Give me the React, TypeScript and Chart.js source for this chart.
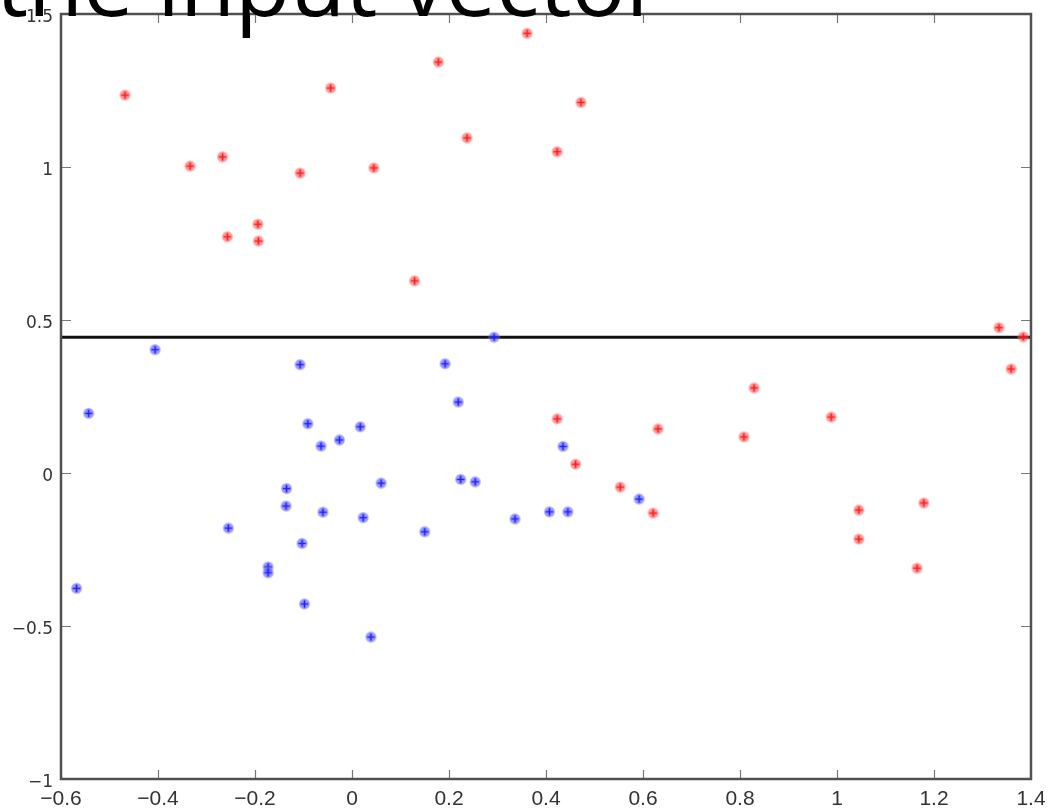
import React, { useEffect, useRef } from "react";
import { Chart, registerables } from "chart.js";

Chart.register(...registerables);

// ---------- data ----------
const titleText = "the input vector";

const xTickValues = [-0.6, -0.4, -0.2, 0, 0.2, 0.4, 0.6, 0.8, 1, 1.2, 1.4];
const yTickValues = [-1, -0.5, 0, 0.5, 1, 1.5];

const boundaryX = [-0.6, 1.4];
const boundaryY = [0.444, 0.444];

const redX = [
  -0.468, -0.044, 0.178, 0.361, 0.472, 0.237, 0.423, -0.334, -0.267, -0.107,
  0.045, -0.257, -0.194, -0.193, 0.129, 0.423, 0.461, 0.553, 0.621, 0.631,
  0.829, 0.808, 0.988, 1.045, 1.045, 1.179, 1.165, 1.334, 1.384, 1.359,
];
const redY = [
  1.235, 1.258, 1.343, 1.437, 1.211, 1.095, 1.05, 1.003, 1.033, 0.98,
  0.997, 0.772, 0.813, 0.758, 0.628, 0.177, 0.029, -0.046, -0.131, 0.144,
  0.278, 0.118, 0.183, -0.121, -0.216, -0.098, -0.311, 0.475, 0.445, 0.34,
];

const blueX = [
  -0.406, -0.543, -0.568, -0.255, -0.107, -0.091, -0.064, -0.026, -0.135, -0.136,
  -0.06, -0.103, -0.173, -0.173, -0.098, 0.293, 0.192, 0.219, 0.017, 0.435,
  0.06, 0.224, 0.254, 0.023, 0.15, 0.336, 0.407, 0.445, 0.039, 0.592,
];
const blueY = [
  0.403, 0.195, -0.377, -0.18, 0.354, 0.161, 0.088, 0.108, -0.051, -0.108,
  -0.128, -0.23, -0.307, -0.326, -0.428, 0.444, 0.357, 0.232, 0.151, 0.087,
  -0.033, -0.021, -0.029, -0.146, -0.192, -0.15, -0.127, -0.127, -0.536, -0.085,
];

// ---------- helpers ----------
const fmt = (v: number) => String(Math.round(v * 10) / 10).replace("-", "\u2212");

function makeMarker(core: string, halo: string): HTMLCanvasElement {
  const c = document.createElement("canvas");
  const s = 15;
  c.width = s;
  c.height = s;
  const g = c.getContext("2d")!;
  const m = s / 2;
  const grad = g.createRadialGradient(m, m, 0, m, m, 6.4);
  grad.addColorStop(0, halo);
  grad.addColorStop(0.75, halo);
  grad.addColorStop(1, "rgba(255,255,255,0)");
  g.fillStyle = grad;
  g.beginPath();
  g.arc(m, m, 6.4, 0, Math.PI * 2);
  g.fill();
  g.strokeStyle = core;
  g.lineWidth = 1.7;
  g.beginPath();
  g.moveTo(m - 3.8, m);
  g.lineTo(m + 3.8, m);
  g.moveTo(m, m - 3.8);
  g.lineTo(m, m + 3.8);
  g.stroke();
  return c;
}

const framePlugin = {
  id: "matlabFrame",
  afterDatasetsDraw(chart: any) {
    const { ctx, chartArea: a, scales } = chart;
    ctx.save();
    // inward ticks
    ctx.strokeStyle = "#777";
    ctx.lineWidth = 1.2;
    ctx.beginPath();
    scales.x.ticks.forEach((t: any) => {
      const px = Math.round(scales.x.getPixelForValue(t.value)) + 0.5;
      if (px - a.left < 3 || a.right - px < 3) return;
      ctx.moveTo(px, a.bottom);
      ctx.lineTo(px, a.bottom - 9);
      ctx.moveTo(px, a.top);
      ctx.lineTo(px, a.top + 9);
    });
    scales.y.ticks.forEach((t: any) => {
      const py = Math.round(scales.y.getPixelForValue(t.value)) + 0.5;
      if (py - a.top < 3 || a.bottom - py < 3) return;
      ctx.moveTo(a.left, py);
      ctx.lineTo(a.left + 10, py);
      ctx.moveTo(a.right, py);
      ctx.lineTo(a.right - 10, py);
    });
    ctx.stroke();
    // frame
    ctx.strokeStyle = "#505050";
    ctx.lineWidth = 2.5;
    ctx.strokeRect(a.left, a.top, a.right - a.left, a.bottom - a.top);
    ctx.restore();
  },
  afterDraw(chart: any) {
    const { ctx } = chart;
    ctx.save();
    ctx.font = '90px "Open Sans"';
    ctx.fillStyle = "#000";
    ctx.textBaseline = "alphabetic";
    ctx.textAlign = "left";
    ctx.fillText(titleText, -4, 16);
    ctx.restore();
  },
};

export default function App() {
  const ref = useRef<HTMLCanvasElement | null>(null);

  useEffect(() => {
    if (!ref.current) return;
    const redMarker = makeMarker("rgba(255,20,20,0.95)", "rgba(255,90,90,0.6)");
    const blueMarker = makeMarker("rgba(25,25,255,0.95)", "rgba(90,90,255,0.6)");

    const chart = new Chart(ref.current, {
      type: "scatter",
      data: {
        datasets: [
          {
            type: "line",
            label: "boundary",
            data: boundaryX.map((x, i) => ({ x, y: boundaryY[i] })),
            borderColor: "#111",
            borderWidth: 3,
            pointRadius: 0,
            fill: false,
            order: 5,
          } as any,
          {
            label: "class 1",
            data: redX.map((x, i) => ({ x, y: redY[i] })),
            pointStyle: redMarker,
            pointRadius: 6,
            order: 1,
          },
          {
            label: "class 2",
            data: blueX.map((x, i) => ({ x, y: blueY[i] })),
            pointStyle: blueMarker,
            pointRadius: 6,
            order: 0,
          },
        ],
      },
      options: {
        animation: false,
        responsive: false,
        events: [],
        layout: { padding: { top: 14, right: 21, left: 0, bottom: 0 } },
        plugins: {
          legend: { display: false },
          tooltip: { enabled: false },
          title: { display: false },
        },
        scales: {
          x: {
            type: "linear",
            min: -0.6,
            max: 1.4,
            grid: { display: false, drawTicks: false },
            border: { display: false },
            afterBuildTicks: (s: any) => {
              s.ticks = xTickValues.map((v) => ({ value: v }));
            },
            afterFit: (s: any) => {
              s.height = 32;
              s.paddingLeft = 0;
              s.paddingRight = 0;
            },
            ticks: {
              autoSkip: false,
              maxRotation: 0,
              padding: 8,
              color: "#333",
              font: { family: "Liberation Sans", size: 21 },
              callback: (v: any) => fmt(Number(v)),
            },
          },
          y: {
            type: "linear",
            min: -1,
            max: 1.5,
            grid: { display: false, drawTicks: false },
            border: { display: false },
            afterBuildTicks: (s: any) => {
              s.ticks = yTickValues.map((v) => ({ value: v }));
            },
            afterFit: (s: any) => {
              s.width = 61;
              s.paddingTop = 0;
              s.paddingBottom = 0;
            },
            ticks: {
              autoSkip: false,
              padding: 8,
              labelOffset: 4,
              color: "#333",
              font: { family: "DejaVu Sans", size: 17 },
              callback: (v: any) => fmt(Number(v)),
            },
          },
        },
      },
      plugins: [framePlugin],
    });
    return () => chart.destroy();
  }, []);

  return (
    <div style={{ position: "absolute", left: 0, top: 0, width: 1052, height: 811, background: "#fff" }}>
      <canvas ref={ref} width={1052} height={811} style={{ display: "block", width: 1052, height: 811 }} />
    </div>
  );
}
